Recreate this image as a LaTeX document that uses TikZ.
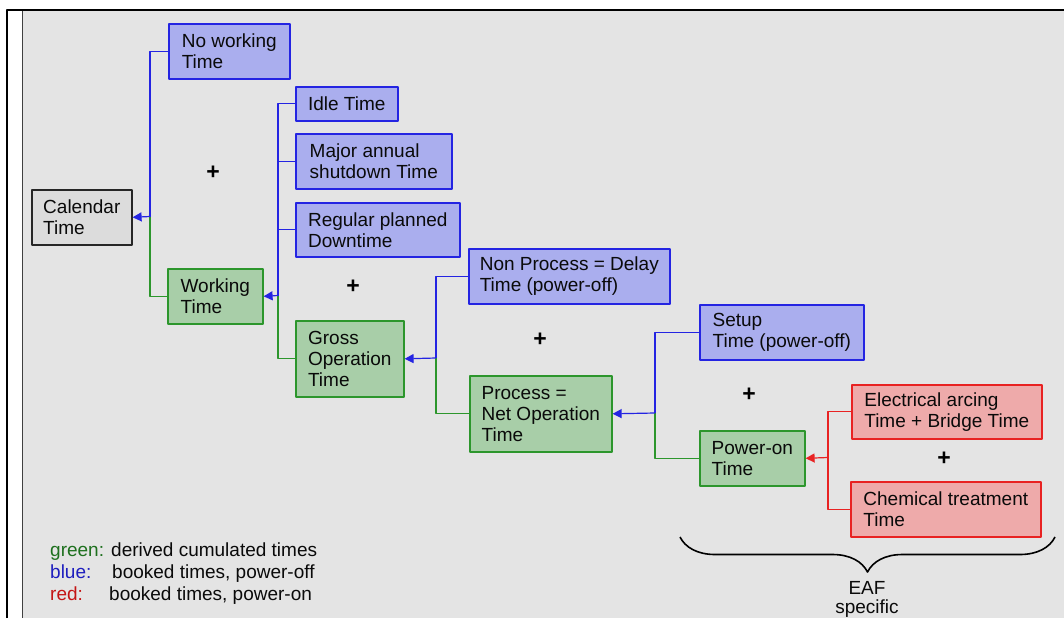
\documentclass[tikz,border=0pt]{standalone}
\usepackage{fontspec}
\setmainfont{Liberation Sans}
\usetikzlibrary{arrows.meta,decorations.pathreplacing}
\definecolor{panel}{RGB}{228,228,228}
\definecolor{bluefill}{RGB}{170,174,238}
\definecolor{blueline}{RGB}{36,36,226}
\definecolor{greenfill}{RGB}{168,206,168}
\definecolor{greenline}{RGB}{44,150,44}
\definecolor{redfill}{RGB}{238,170,170}
\definecolor{redline}{RGB}{232,34,34}
\definecolor{grayfill}{RGB}{220,220,220}
\definecolor{inktext}{RGB}{10,10,10}
\definecolor{leggreen}{RGB}{30,112,30}
\definecolor{legblue}{RGB}{30,30,190}
\definecolor{legred}{RGB}{196,20,20}
\tikzset{
  box/.style={draw, line width=1.6pt, anchor=north west, align=left, inner sep=0pt, text=inktext},
  sz/.style 2 args={minimum width=#1, minimum height=#2},
  bluebox/.style={box, draw=blueline, fill=bluefill},
  greenbox/.style={box, draw=greenline, fill=greenfill},
  redbox/.style={box, draw=redline, fill=redfill},
  graybox/.style={box, draw=black!85, fill=grayfill},
  bwire/.style={draw=blueline, line width=1.2pt},
  gwire/.style={draw=greenline, line width=1.2pt},
  rwire/.style={draw=redline, line width=1.2pt},
  leg/.style={anchor=base west, inner sep=0pt, text=inktext},
}
\begin{document}
\begin{tikzpicture}[x=1pt, y=-1pt, font=\fontsize{19}{21}\selectfont, line join=round,
    >={Triangle[length=9pt,width=9pt]}]
  \useasboundingbox (0,0) rectangle (1064,618);
  \fill[white] (0,0) rectangle (1064,618);
  \fill[panel] (22,11) rectangle (1064,618);
  \draw[line width=1.5pt, black!75] (22.5,11) -- (22.5,618);
  \draw[line width=2.6pt] (7,618) -- (7,10) -- (1064,10);
  \node[graybox, sz={100}{55}] (cal) at (31,189) {Calendar\\Time};
  \node[bluebox, sz={121}{55}] (nowork) at (168,23) {No working\\Time};
  \node[greenbox, sz={95}{55}] (work) at (167,268) {Working\\Time};
  \node[bluebox, sz={102}{34}] (idle) at (295,86) {Idle Time};
  \node[bluebox, sz={156}{55}] (major) at (295,133) {Major annual\\shutdown Time};
  \node[bluebox, sz={164}{54}] (regular) at (295,202) {Regular planned\\Downtime};
  \node[greenbox, sz={108}{76}] (gross) at (295,320) {Gross\\Operation\\Time};
  \node[bluebox, sz={201}{55}] (nonproc) at (468,248) {Non Process = Delay\\Time (power-off)};
  \node[greenbox, sz={142}{76}] (proc) at (469,375) {Process =\\Net Operation\\Time};
  \node[bluebox, sz={164}{55}] (setup) at (699,304) {Setup\\Time (power-off)};
  \node[greenbox, sz={105}{55}] (poweron) at (699,430) {Power-on\\Time};
  \node[redbox, sz={190}{54}] (elec) at (851,384) {Electrical arcing\\Time + Bridge Time};
  \node[redbox, sz={190}{55}] (chem) at (850,481) {Chemical treatment\\Time};
  \coordinate (j1) at (150,216.5);
  \coordinate (j2) at (278,295.5);
  \coordinate (j3) at (436,358);
  \coordinate (j4) at (655,413);
  \coordinate (j5) at (828,457.5);
  \draw[bwire] (nowork.west) -| (j1);
  \draw[gwire] (j1) |- (work.west);
  \draw[bwire,->] (j1) -- (cal.east);
  \draw[bwire] (idle.west) -| (j2);
  \draw[bwire] (major.west) -- (major.west -| j2);
  \draw[bwire] (regular.west) -- (regular.west -| j2);
  \draw[gwire] (j2) |- (gross.west);
  \draw[bwire,->] (j2) -- (work.east);
  \draw[bwire] (nonproc.west) -| (j3);
  \draw[gwire] (j3) |- (proc.west);
  \draw[bwire,->] (j3) -- (gross.east);
  \draw[bwire] (setup.west) -| (j4);
  \draw[gwire] (j4) |- (poweron.west);
  \draw[bwire,->] (j4) -- (proc.east);
  \draw[rwire] (elec.west) -| (j5);
  \draw[rwire] (chem.west) -| (j5);
  \draw[rwire,->] (j5) -- (poweron.east);
  \foreach \px/\py [count=\i] in {213/173, 353/287, 540/340, 749/395, 944/459}
    \node[inner sep=0pt, font=\fontsize{23}{23}\bfseries] (plus\i) at (\px,\py) {+};
  \coordinate (bl) at (680,537);
  \coordinate (br) at (1055,537);
  \draw[decorate, decoration={brace, mirror, amplitude=35pt}, line width=1.6pt] (bl) -- (br);
  \node[anchor=north, align=center, inner sep=0pt, text=inktext, font=\fontsize{19}{19}\selectfont] (eaf) at (867,581) {EAF\\specific};
  \node[leg, text=leggreen] (lgreen) at (50,556) {green:};
  \node[leg] (lgreentxt) at (111,556) {derived cumulated times};
  \node[leg, text=legblue] (lblue) at (50,578) {blue:};
  \node[leg] (lbluetxt) at (112,578) {booked times, power-off};
  \node[leg, text=legred] (lred) at (50,600) {red:};
  \node[leg] (lredtxt) at (109,600) {booked times, power-on};
\end{tikzpicture}
\end{document}
